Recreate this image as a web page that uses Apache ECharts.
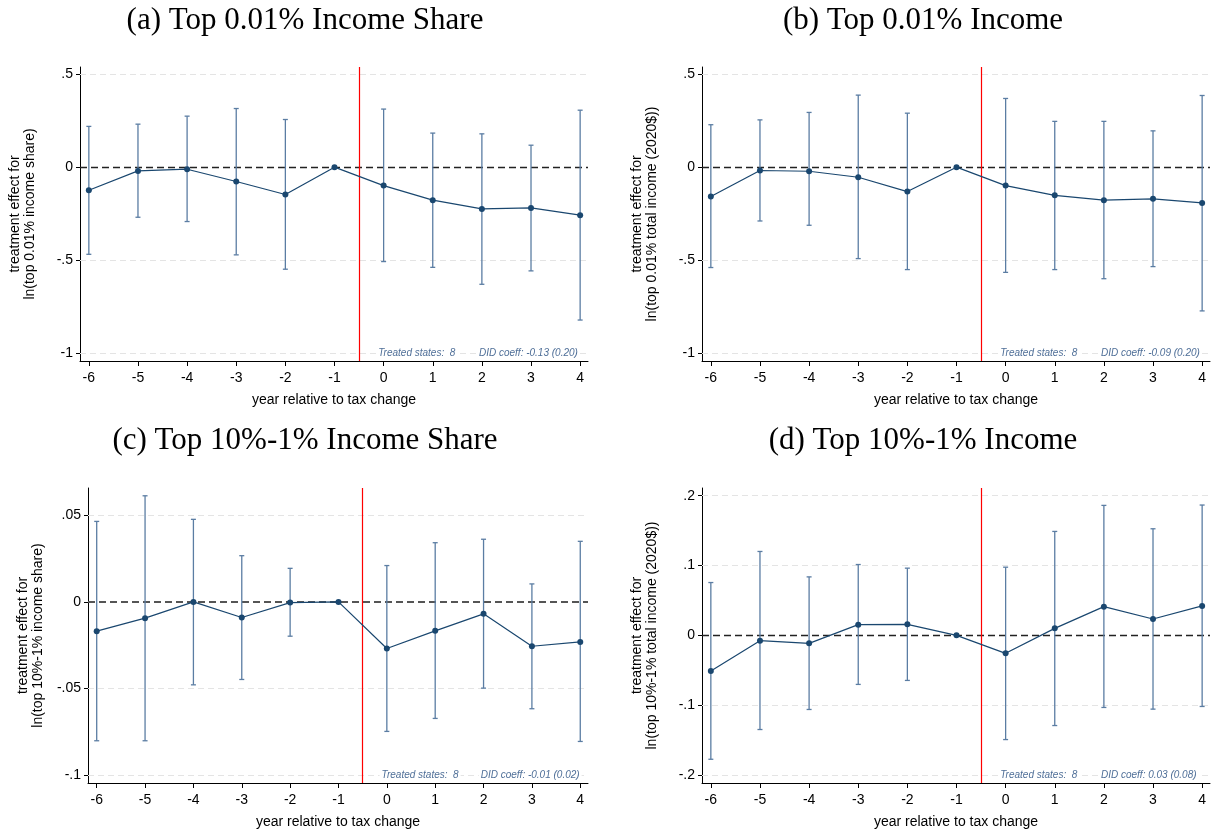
<!DOCTYPE html>
<html>
<head>
<meta charset="utf-8">
<script src="https://cdn.jsdelivr.net/npm/echarts@6/dist/echarts.min.js"></script>
<style>
  html, body { margin: 0; padding: 0; background: #fff; }
  #chart { width: 1222px; height: 831px; }
</style>
</head>
<body>
<div id="chart"></div>
<script>
// event-time axis
const years = [-6, -5, -4, -3, -2, -1, 0, 1, 2, 3, 4];

// (a) top 0.01% income share
const coefA = [-0.124, -0.020, -0.011, -0.077, -0.147, 0, -0.099, -0.177, -0.224, -0.219, -0.258];
const loA = [-0.468, -0.269, -0.292, -0.471, -0.548, 0, -0.507, -0.538, -0.629, -0.557, -0.821];
const hiA = [0.219, 0.231, 0.274, 0.315, 0.256, 0, 0.312, 0.183, 0.179, 0.118, 0.306];

// (b) top 0.01% income
const coefB = [-0.158, -0.018, -0.022, -0.054, -0.131, 0, -0.099, -0.151, -0.177, -0.170, -0.192];
const loB = [-0.539, -0.289, -0.312, -0.491, -0.550, 0, -0.565, -0.550, -0.599, -0.534, -0.772];
const hiB = [0.228, 0.254, 0.294, 0.387, 0.290, 0, 0.369, 0.246, 0.246, 0.195, 0.385];

// (c) top 10%-1% income share
const coefC = [-0.0169, -0.0094, 0, -0.0090, -0.0004, 0, -0.0269, -0.0167, -0.0069, -0.0256, -0.0231];
const loC = [-0.0802, -0.0802, -0.0479, -0.0448, -0.0198, 0, -0.0748, -0.0673, -0.0498, -0.0617, -0.0806];
const hiC = [0.0465, 0.0613, 0.0477, 0.0267, 0.0194, 0, 0.0210, 0.0342, 0.0362, 0.0104, 0.0350];

// (d) top 10%-1% income
const coefD = [-0.0512, -0.0077, -0.0115, 0.0153, 0.0158, 0, -0.0258, 0.0100, 0.0411, 0.0234, 0.0421];
const loD = [-0.1775, -0.1349, -0.1062, -0.0703, -0.0646, 0, -0.1493, -0.1292, -0.1033, -0.1057, -0.1019];
const hiD = [0.0756, 0.1201, 0.0837, 0.1014, 0.0962, 0, 0.0976, 0.1488, 0.1861, 0.1526, 0.1866];

// y tick labels
const yTicksAB = [-1, -0.5, 0, 0.5];
const yTicksC = [-0.1, -0.05, 0, 0.05];
const yTicksD = [-0.2, -0.1, 0, 0.1, 0.2];

const titles = ["(a) Top 0.01% Income Share", "(b) Top 0.01% Income", "(c) Top 10%-1% Income Share", "(d) Top 10%-1% Income"];
const yNames = [
  "treatment effect for\nln(top 0.01% income share)",
  "treatment effect for\nln(top 0.01% total income (2020$))",
  "treatment effect for\nln(top 10%-1% income share)",
  "treatment effect for\nln(top 10%-1% total income (2020$))"
];
const treatedStates = [8, 8, 8, 8];
const didText = ["-0.13 (0.20)", "-0.09 (0.20)", "-0.01 (0.02)", "0.03 (0.08)"];

const NAVY = "#1a476f";
const CI_COLOR = "#5b7da3";
const NOTE_COLOR = "#4f6f98";

const panels = [
  { coef: coefA, lo: loA, hi: hiA, ticks: yTicksAB, min: -1.041, max: 0.538, grid: { left: 80, top: 67, width: 508, height: 294 }, zero: "#222" },
  { coef: coefB, lo: loB, hi: hiB, ticks: yTicksAB, min: -1.041, max: 0.538, grid: { left: 702, top: 67, width: 508, height: 294 }, zero: "#222" },
  { coef: coefC, lo: loC, hi: hiC, ticks: yTicksC, min: -0.1046, max: 0.0658, grid: { left: 88, top: 488, width: 500, height: 295 }, zero: "#555" },
  { coef: coefD, lo: loD, hi: hiD, ticks: yTicksD, min: -0.2115, max: 0.211, grid: { left: 702, top: 488, width: 508, height: 295 }, zero: "#222" }
];
const titlePos = [[300, 0], [918, 0], [300, 420], [918, 420]];

// stata style labels: .5 instead of 0.5
function stataNum(v) {
  return String(v).replace(/^(-?)0\./, "$1.");
}

function errorBar(params, api) {
  const x = api.value(0);
  const lo = api.value(1);
  const hi = api.value(2);
  if (lo === hi) return null;
  const top = api.coord([x, hi]);
  const bot = api.coord([x, lo]);
  const style = { stroke: CI_COLOR, lineWidth: 1.3 };
  return {
    type: "group",
    children: [
      { type: "line", shape: { x1: top[0], y1: top[1], x2: bot[0], y2: bot[1] }, style: style },
      { type: "line", shape: { x1: top[0] - 2.5, y1: top[1], x2: top[0] + 2.5, y2: top[1] }, style: style },
      { type: "line", shape: { x1: bot[0] - 2.5, y1: bot[1], x2: bot[0] + 2.5, y2: bot[1] }, style: style }
    ]
  };
}

const grid = [];
const xAxis = [];
const yAxis = [];
const series = [];
const title = [];

panels.forEach((p, i) => {
  grid.push(p.grid);
  title.push({
    text: titles[i],
    left: titlePos[i][0],
    top: titlePos[i][1],
    textAlign: "center",
    textStyle: { fontFamily: "Liberation Serif", fontWeight: "normal", fontSize: 31, color: "#000" }
  });
  xAxis.push({
    type: "value",
    gridIndex: i,
    min: -6.18,
    max: 4.16,
    name: "year relative to tax change",
    nameLocation: "middle",
    nameGap: 32,
    nameTextStyle: { fontFamily: "Liberation Sans", fontSize: 14, color: "#000" },
    axisLine: { onZero: false, lineStyle: { color: "#000", width: 1 } },
    axisTick: { customValues: years, length: 5, lineStyle: { color: "#000" } },
    axisLabel: { customValues: years, fontFamily: "Liberation Sans", fontSize: 14, color: "#000", margin: 10 },
    splitLine: { show: false }
  });
  yAxis.push({
    type: "value",
    gridIndex: i,
    min: p.min,
    max: p.max,
    name: yNames[i],
    nameLocation: "middle",
    nameRotate: 90,
    nameGap: 42,
    nameTextStyle: { fontFamily: "Liberation Sans", fontSize: 14, color: "#000", lineHeight: 15 },
    axisLine: { show: true, onZero: false, lineStyle: { color: "#000", width: 1 } },
    axisTick: { show: true, customValues: p.ticks, length: 4, lineStyle: { color: "#000" } },
    axisLabel: { customValues: p.ticks, fontFamily: "Liberation Sans", fontSize: 14, color: "#000", margin: 7, formatter: stataNum },
    splitLine: { show: false }
  });

  // confidence intervals
  series.push({
    type: "custom",
    xAxisIndex: i,
    yAxisIndex: i,
    renderItem: errorBar,
    data: years.map((y, k) => [y, p.lo[k], p.hi[k]]),
    z: 3,
    silent: true
  });

  // grid lines, zero line, treatment line
  const refLines = p.ticks.filter(v => v !== 0).map(v => ({
    yAxis: v,
    lineStyle: { color: "#e4e4e4", type: [6, 4], width: 1 }
  }));
  refLines.push({ yAxis: 0, lineStyle: { color: p.zero, type: [7, 4], width: i === 2 ? 1.8 : 1.3 } });
  refLines.push({ xAxis: -0.5, lineStyle: { color: "#ff0000", type: "solid", width: 1.2 } });

  series.push({
    type: "line",
    xAxisIndex: i,
    yAxisIndex: i,
    data: years.map((y, k) => [y, p.coef[k]]),
    symbol: "circle",
    symbolSize: 6,
    itemStyle: { color: NAVY },
    lineStyle: { color: NAVY, width: 1.2 },
    z: 4,
    silent: true,
    markLine: {
      silent: true,
      symbol: "none",
      label: { show: false },
      z: 1,
      data: refLines
    },
    markPoint: {
      silent: true,
      symbol: "circle",
      symbolSize: 0,
      label: {
        show: true,
        position: "right",
        distance: 0,
        fontFamily: "Liberation Sans",
        fontStyle: "italic",
        fontSize: 10,
        color: NOTE_COLOR,
        backgroundColor: "#fff",
        padding: [0, 2]
      },
      data: [
        { coord: [-0.15, p.ticks[0]], label: { formatter: "Treated states:  " + treatedStates[i] } },
        { coord: [1.9, p.ticks[0]], label: { formatter: "DID coeff: " + didText[i] } }
      ]
    }
  });
});

const chart = echarts.init(document.getElementById("chart"));
chart.setOption({
  animation: false,
  backgroundColor: "#fff",
  title: title,
  grid: grid,
  xAxis: xAxis,
  yAxis: yAxis,
  series: series
});
</script>
</body>
</html>
